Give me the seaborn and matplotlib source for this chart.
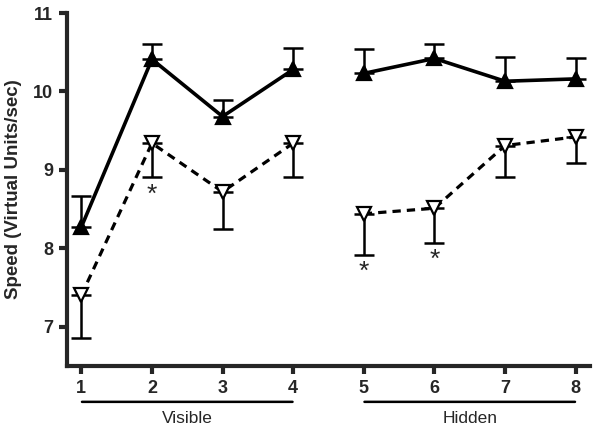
import numpy as np
import pandas as pd
import matplotlib
matplotlib.use("Agg")
import matplotlib.pyplot as plt
import seaborn as sns

# data
sessions = [1, 2, 3, 4, 5, 6, 7, 8]
phase = ["Visible"] * 4 + ["Hidden"] * 4
solid_mean = [8.27, 10.41, 9.68, 10.28, 10.23, 10.42, 10.13, 10.16]
solid_err = [0.40, 0.19, 0.21, 0.27, 0.31, 0.19, 0.31, 0.27]
dashed_mean = [7.40, 9.34, 8.72, 9.34, 8.44, 8.51, 9.31, 9.42]
dashed_err = [0.54, 0.43, 0.47, 0.43, 0.52, 0.44, 0.40, 0.33]
star_sessions = [2, 5, 6]
yticks = [7, 8, 9, 10, 11]

df = pd.DataFrame({
    "session": sessions * 2,
    "speed": solid_mean + dashed_mean,
    "err": solid_err + dashed_err,
    "group": ["solid"] * 8 + ["dashed"] * 8,
    "phase": phase * 2,
})

sns.set_style("ticks")
plt.rcParams["font.family"] = ["Liberation Sans", "DejaVu Sans"]

fig = plt.figure(figsize=(6.0, 4.34), dpi=100)
ax = fig.add_axes([0.112, 0.157, 0.871, 0.813])

styles = {
    "solid": dict(marker="^", ls="-", lw=2.6, mfc="black", sign=1),
    "dashed": dict(marker="v", ls=(0, (2.6, 1.9)), lw=2.3, mfc="white", sign=-1),
}

for grp, st in styles.items():
    for ph in ["Visible", "Hidden"]:
        sub = df[(df.group == grp) & (df.phase == ph)]
        # one-sided error bars
        lower = sub.err.values if st["sign"] < 0 else np.zeros(len(sub))
        upper = sub.err.values if st["sign"] > 0 else np.zeros(len(sub))
        ax.errorbar(sub.session, sub.speed, yerr=[lower, upper], fmt="none",
                    ecolor="black", elinewidth=1.8, capsize=7, capthick=1.8,
                    zorder=2)
        sns.lineplot(data=sub, x="session", y="speed", ax=ax, color="black",
                     lw=st["lw"], linestyle=st["ls"], marker=st["marker"],
                     markersize=10, markerfacecolor=st["mfc"],
                     markeredgecolor="black", markeredgewidth=1.6,
                     errorbar=None, zorder=3)

# asterisks under the dashed error bars
for s in star_sessions:
    i = sessions.index(s)
    ax.text(s, dashed_mean[i] - dashed_err[i] - 0.07, "*", ha="center",
            va="top", fontsize=19)

ax.set_xlim(0.8, 8.2)
ax.set_ylim(6.5, 11)
ax.set_xticks(sessions)
ax.set_yticks(yticks)
ax.set_xlabel("")
ax.set_ylabel("Speed (Virtual Units/sec)", fontsize=13.5, fontweight="bold",
              labelpad=8)
for lab in ax.get_xticklabels() + ax.get_yticklabels():
    lab.set_fontweight("bold")
    lab.set_fontsize(13)
ax.tick_params(width=3, length=6, direction="out", pad=4)
for sp in ["left", "bottom"]:
    ax.spines[sp].set_linewidth(3)
sns.despine(ax=ax)

# phase brackets under the x axis
for lo, hi, name in [(1, 4, "Visible"), (5, 8, "Hidden")]:
    ax.annotate("", xy=(lo - 0.03, -0.102), xytext=(hi + 0.03, -0.102),
                xycoords=("data", "axes fraction"),
                arrowprops=dict(arrowstyle="-", lw=1.8, color="black"))
    ax.text((lo + hi) / 2, -0.128, name, transform=ax.get_xaxis_transform(),
            ha="center", va="top", fontsize=12.5)

fig.savefig("out.png", dpi=100)
